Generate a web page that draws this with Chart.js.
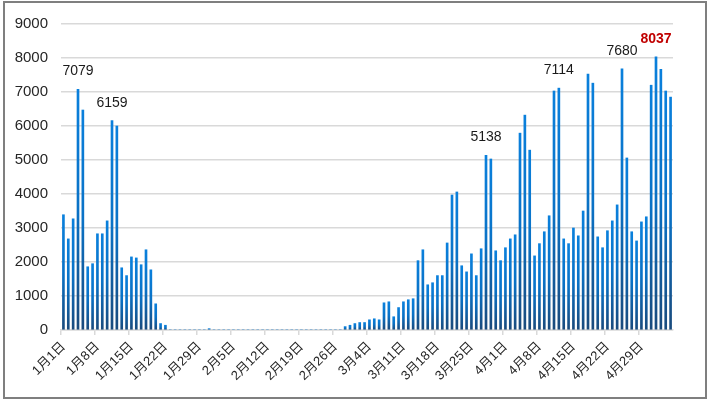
<!DOCTYPE html>
<html>
<head>
<meta charset="utf-8">
<script src="https://cdn.jsdelivr.net/npm/chart.js@4/dist/chart.umd.min.js"></script>
<style>
  html, body { margin: 0; padding: 0; background: #fff; }
  .wrap { position: relative; width: 710px; height: 402px; }
  .frame {
    position: absolute; left: 3px; top: 1px; width: 700px; height: 394px;
    border: 2px solid #7f7f7f; pointer-events: none;
  }
  canvas { position: absolute; left: 0; top: 0; }
</style>
</head>
<body>
<div class="wrap">
  <canvas id="chart" width="710" height="402"></canvas>
  <div class="frame"></div>
</div>
<script>
// Daily counts per month (one entry per day)
const janCounts = [3390, 2680, 3270, 7079, 6470, 1860, 1950, 2830, 2830, 3210,
  6159, 6000, 1830, 1600, 2150, 2120, 1920, 2360, 1770, 770,
  190, 140, 0, 0, 0, 0, 0, 0, 0, 0, 40];
const febCounts = [0, 0, 0, 0, 0, 0, 0, 0, 0, 0,
  0, 0, 0, 0, 0, 0, 0, 0, 0, 0,
  0, 0, 0, 0, 0, 0, 0, 100, 140];
const marCounts = [190, 220, 220, 300, 330, 300, 800, 830, 390, 660,
  830, 890, 920, 2040, 2360, 1330, 1390, 1600, 1600, 2560,
  3970, 4060, 1890, 1710, 2240, 1600, 2390, 5138, 5030, 2330, 2040];
const aprCounts = [2420, 2680, 2800, 5790, 6320, 5290, 2180, 2540, 2890, 3360,
  7030, 7114, 2680, 2540, 3000, 2770, 3500, 7530, 7260, 2740,
  2420, 2920, 3210, 3680, 7680, 5060, 2890, 2620, 3180, 3330];
const mayCounts = [7200, 8037, 7670, 7030, 6850];

// y axis ticks
const yTicks = [0, 1000, 2000, 3000, 4000, 5000, 6000, 7000, 8000, 9000];

// bars that carry a value label (index into the day list), last one highlighted
const labelDays = [3, 10, 87, 102, 115, 122];
const highlightDay = 122;

// Build category labels + values from the month arrays
const months = [janCounts, febCounts, marCounts, aprCounts, mayCounts];
const dayLabels = [];
const dayCounts = [];
months.forEach((arr, m) => {
  arr.forEach((v, d) => {
    dayLabels.push(`${m + 1}月${d + 1}日`);
    dayCounts.push(v);
  });
});

const FONT = '"Liberation Sans", Arial, "Noto Sans CJK SC", sans-serif';

// per-bar vertical gradient
function barGradient(context) {
  const chart = context.chart;
  const y = chart.scales.y;
  if (!chart.chartArea || !y) return '#0a78d0';
  const v = context.raw || 0;
  const top = y.getPixelForValue(v);
  const bottom = y.getPixelForValue(0);
  if (bottom - top < 1) return '#0a78d0';
  const g = chart.ctx.createLinearGradient(0, top, 0, bottom);
  g.addColorStop(0, '#0a80dc');
  g.addColorStop(0.5, '#0a72c6');
  g.addColorStop(1, '#1a4a7c');
  return g;
}

// draws the number above selected bars
const valueLabels = {
  id: 'valueLabels',
  afterDatasetsDraw(chart) {
    const ctx = chart.ctx;
    const meta = chart.getDatasetMeta(0);
    ctx.save();
    ctx.textAlign = 'center';
    ctx.textBaseline = 'alphabetic';
    labelDays.forEach(i => {
      const el = meta.data[i];
      if (!el) return;
      const isHi = i === highlightDay;
      ctx.font = (isHi ? 'bold ' : '') + '14px ' + FONT;
      ctx.fillStyle = isHi ? '#c00000' : '#1a1a1a';
      ctx.fillText(String(dayCounts[i]), el.x, el.y - 14);
    });
    ctx.restore();
  }
};

const ctx = document.getElementById('chart').getContext('2d');
new Chart(ctx, {
  type: 'bar',
  data: {
    labels: dayLabels,
    datasets: [{
      data: dayCounts,
      backgroundColor: barGradient,
      borderWidth: 0,
      barThickness: 2
    }]
  },
  options: {
    responsive: false,
    animation: false,
    events: [],
    layout: { padding: { left: 0, right: 37, top: 24, bottom: 0 } },
    plugins: {
      legend: { display: false },
      tooltip: { enabled: false }
    },
    scales: {
      x: {
        offset: true,
        grid: {
          offset: true,
          drawOnChartArea: false,
          drawTicks: true,
          tickLength: 5,
          lineWidth: 1.5,
          color: c => (c.index % 7 === 0 ? '#d9d9d9' : 'rgba(0,0,0,0)')
        },
        border: { display: true, color: '#d9d9d9', width: 1.5 },
        ticks: {
          autoSkip: false,
          minRotation: 45,
          maxRotation: 45,
          padding: 4,
          color: '#262626',
          font: { family: FONT, size: 13 },
          callback: (val, index) => (index % 7 === 0 ? dayLabels[index] : '')
        },
        afterFit: scale => { scale.height = 72; }
      },
      y: {
        min: 0,
        max: 9000,
        afterBuildTicks: scale => { scale.ticks = yTicks.map(v => ({ value: v })); },
        grid: { color: '#d9d9d9', lineWidth: 1.5, drawTicks: false },
        border: { display: false },
        ticks: {
          padding: 13,
          color: '#262626',
          font: { family: FONT, size: 15 },
          callback: v => String(v)
        },
        afterFit: scale => { scale.width = 61; }
      }
    }
  },
  plugins: [valueLabels]
});
</script>
</body>
</html>
